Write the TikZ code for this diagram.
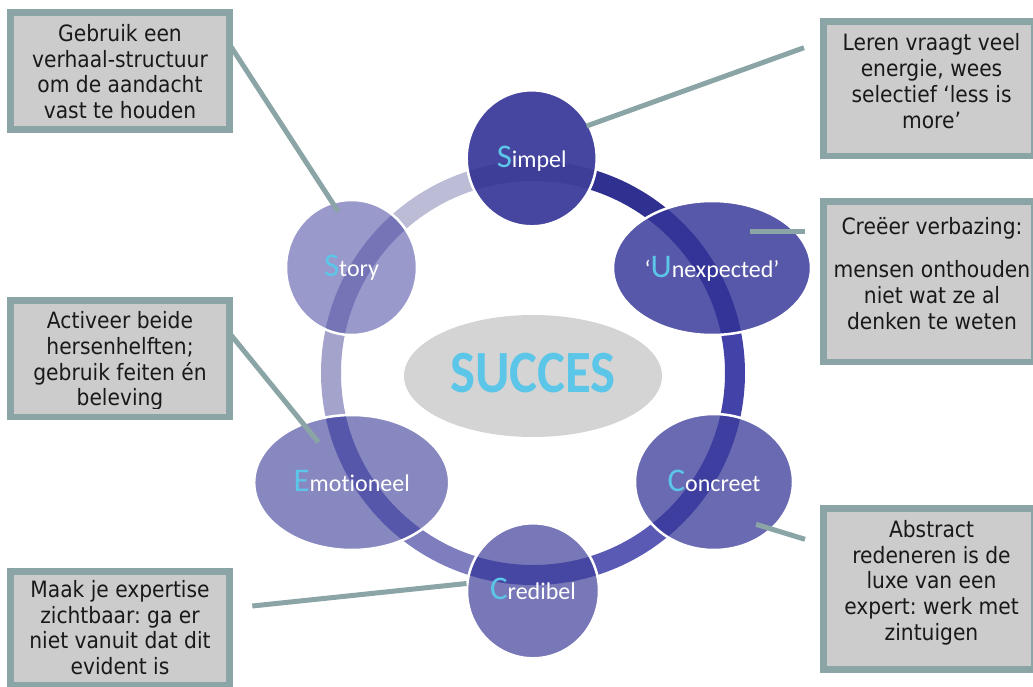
\documentclass[tikz,border=0pt]{standalone}
\usepackage{fontspec}
\newfontfamily\boxfont{DejaVu Sans Condensed}
\newfontfamily\lblfont[Ligatures={NoCommon}]{Carlito}
\newfontfamily\succfont[FakeStretch=0.88]{Carlito Bold}
\usetikzlibrary{shapes.geometric}
\frenchspacing
\definecolor{boxfill}{RGB}{204,204,204}
\definecolor{boxline}{RGB}{139,165,166}
\definecolor{lblue}{RGB}{92,198,232}
\definecolor{succgray}{RGB}{212,212,212}
% node fills
\definecolor{cSi}{RGB}{70,70,160}
\definecolor{cUn}{RGB}{88,88,170}
\definecolor{cCo}{RGB}{106,106,178}
\definecolor{cCr}{RGB}{120,120,184}
\definecolor{cEm}{RGB}{136,136,192}
\definecolor{cSt}{RGB}{153,153,204}
% band inside nodes
\definecolor{bSi}{RGB}{62,62,153}
\definecolor{bUn}{RGB}{52,52,152}
\definecolor{bCo}{RGB}{62,62,160}
\definecolor{bCr}{RGB}{70,70,163}
\definecolor{bEm}{RGB}{86,86,170}
\definecolor{bSt}{RGB}{116,116,182}
% ring segments
\definecolor{rSU}{RGB}{48,48,145}
\definecolor{rUC}{RGB}{66,66,168}
\definecolor{rCC}{RGB}{90,90,180}
\definecolor{rCE}{RGB}{126,126,190}
\definecolor{rES}{RGB}{163,163,204}
\definecolor{rSS}{RGB}{188,188,214}
\tikzset{
  callout/.style={rectangle, draw=boxline, line width=6.5pt, fill=boxfill, inner sep=0pt},
  callouttext/.style={font=\boxfont\fontsize{22.5}{25.8}\selectfont, align=center, text=black!90, inner sep=0pt},
  conn/.style={draw=boxline, line width=5pt},
  stage/.style={ellipse, draw=white, line width=2.5pt, inner sep=0pt, text=white,
    font=\lblfont\fontsize{24}{26}\selectfont, text height=18pt, text depth=0pt},
  ringseg/.style={line width=20pt},
  band/.style={path picture={\draw[line width=20pt, #1] (rc) circle[radius=202];}},
}
\newcommand{\ini}[1]{{\color{lblue}\fontsize{33}{33}\selectfont #1}}
\begin{document}
\begin{tikzpicture}[x=1pt,y=-1pt]
\useasboundingbox (0,0) rectangle (1033,687);
\clip (0,0) rectangle (1033,687);
\coordinate (rc) at (533,373);
% ring
\draw[ringseg, draw=rSU] (rc) ++(-90:202) arc[start angle=-90, end angle=-30, radius=202];
\draw[ringseg, draw=rUC] (rc) ++(-30:202) arc[start angle=-30, end angle=31, radius=202];
\draw[ringseg, draw=rCC] (rc) ++(31:202) arc[start angle=31, end angle=90, radius=202];
\draw[ringseg, draw=rCE] (rc) ++(90:202) arc[start angle=90, end angle=149, radius=202];
\draw[ringseg, draw=rES] (rc) ++(149:202) arc[start angle=149, end angle=210, radius=202];
\draw[ringseg, draw=rSS] (rc) ++(210:202) arc[start angle=210, end angle=270, radius=202];
% centre
\node[ellipse, fill=succgray, minimum width=258pt, minimum height=122pt, inner sep=0pt,
  text=lblue, font=\succfont\fontsize{60}{60}\selectfont, text height=32pt, text depth=0pt]
  (succ) at (533,376) {SUCCES};
% stages
\node[stage, fill=cSi, band=bSi, minimum width=130pt, minimum height=136pt] (simpel) at (531.7,158.3) {\ini{S}impel};
\node[stage, fill=cUn, band=bUn, minimum width=198pt, minimum height=134pt] (unexp) at (712,268) {‘\ini{U}nexpected’};
\node[stage, fill=cCo, band=bCo, minimum width=158pt, minimum height=136pt] (concr) at (714,482) {\ini{C}oncreet};
\node[stage, fill=cCr, band=bCr, minimum width=132pt, minimum height=135pt] (cred) at (533,590.8) {\ini{C}redibel};
\node[stage, fill=cEm, band=bEm, minimum width=195pt, minimum height=135pt] (emo) at (351.7,482.5) {\ini{E}motioneel};
\node[stage, fill=cSt, band=bSt, minimum width=131pt, minimum height=135pt] (story) at (351.5,267.5) {\ini{S}tory};
% callout boxes
\node[callout, minimum width=218.9pt, minimum height=116.9pt] (b1) at (120,71) {};
\node[callout, minimum width=210.5pt, minimum height=134.5pt] (b2) at (928.5,88.8) {};
\node[callout, minimum width=210.5pt, minimum height=160.2pt] (b3) at (928.5,281.7) {};
\node[callout, minimum width=218.9pt, minimum height=116.2pt] (b4) at (120,358.7) {};
\node[callout, minimum width=218.9pt, minimum height=113.2pt] (b5) at (120,628.2) {};
\node[callout, minimum width=210.5pt, minimum height=161.2pt] (b6) at (928.5,588.9) {};
% callout texts
\node[callouttext] (t1) at (120,71.7) {Gebruik een\\verhaal-structuur\\om de aandacht\\vast te houden};
\node[callouttext] (t2) at (931.5,81) {Leren vraagt veel\\energie, wees\\selectief ‘less is\\more’};
\node[callouttext] (t3) at (932,273.5) {Creëer verbazing:\\[18pt]mensen onthouden\\niet wat ze al\\denken te weten};
\begin{scope}
\clip (0,290) rectangle (240,408);
\node[callouttext] (t4) at (120,361) {Activeer beide\\hersenhelften;\\gebruik feiten én\\beleving};
\end{scope}
\node[callouttext] (t5) at (120,627.7) {Maak je expertise\\zichtbaar: ga er\\niet vanuit dat dit\\evident is};
\node[callouttext] (t6) at (931.5,582.7) {Abstract\\redeneren is de\\luxe van een\\expert: werk met\\zintuigen};
% connector ends
\coordinate (s1) at (231,46.7);   \coordinate (e1) at (338.3,211.7);
\coordinate (s2) at (804,47.7);   \coordinate (e2) at (586.7,126);
\coordinate (s3) at (805,231.7);  \coordinate (e3) at (750,231.7);
\coordinate (s4) at (231,335);    \coordinate (e4) at (318.3,442.2);
\coordinate (s5) at (252.3,606);  \coordinate (e5) at (466.5,583.5);
\coordinate (s6) at (805,539.3);  \coordinate (e6) at (756,524.3);
\draw[conn] (s1) -- (e1);
\draw[conn] (s2) -- (e2);
\draw[conn] (s3) -- (e3);
\draw[conn] (s4) -- (e4);
\draw[conn] (s5) -- (e5);
\draw[conn] (s6) -- (e6);
\end{tikzpicture}
\end{document}
